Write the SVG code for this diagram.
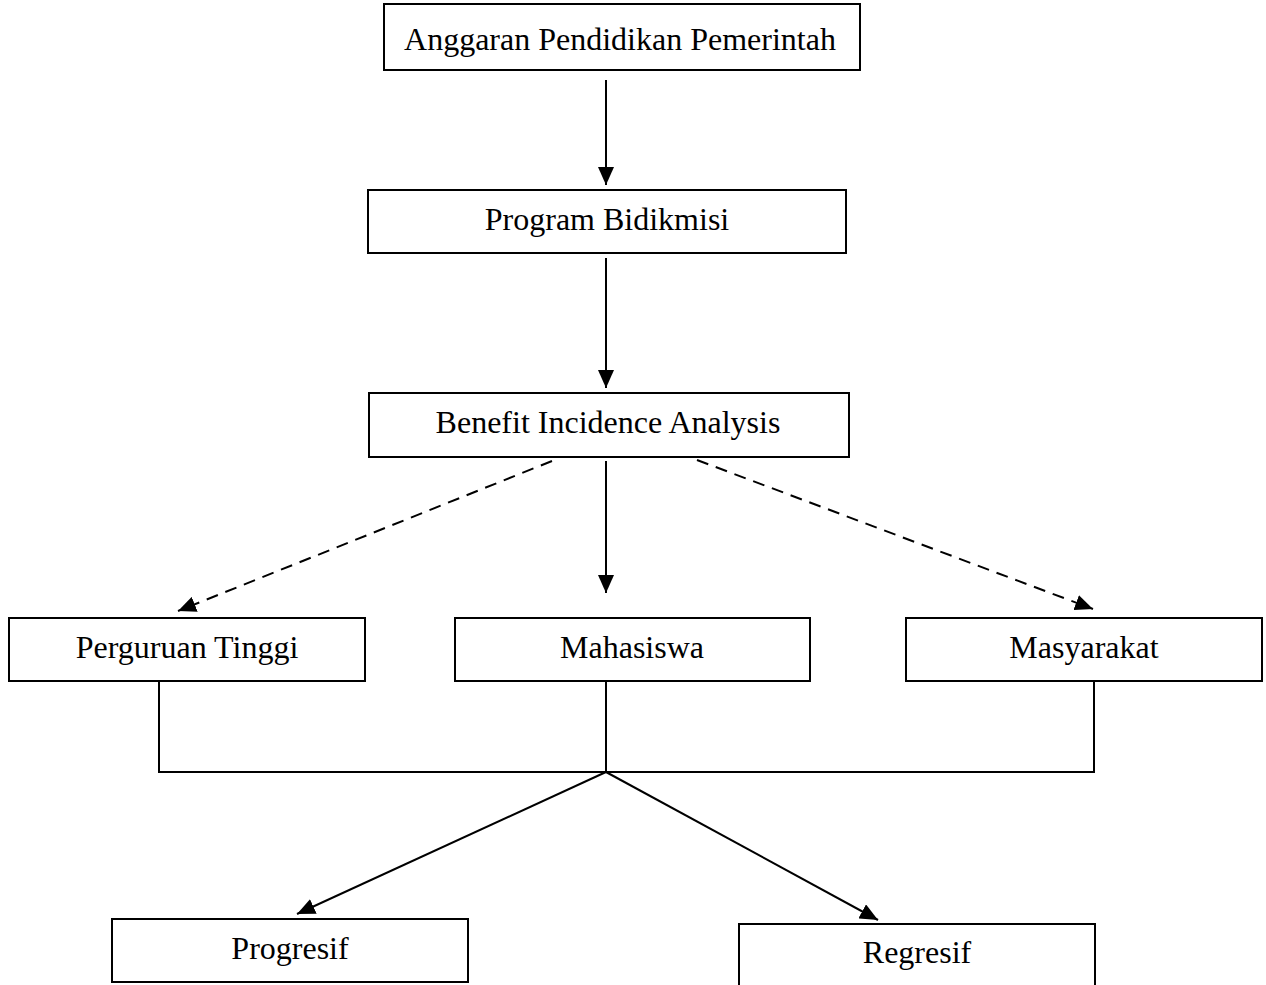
<svg xmlns="http://www.w3.org/2000/svg" width="1266" height="985" viewBox="0 0 1266 985">
<style>
.box{fill:#fff;stroke:#000;stroke-width:2}
.lbl{font-family:"Liberation Serif","Times New Roman",serif;font-size:32px;fill:#000;text-anchor:middle}
.ln{fill:none;stroke:#000;stroke-width:2}
.arr{fill:none;stroke:#000;stroke-width:2;marker-end:url(#ah)}
.dash{stroke-dasharray:12,8}
</style>
<defs>
<marker id="ah" markerUnits="userSpaceOnUse" markerWidth="18" markerHeight="16" viewBox="0 0 18 16" refX="18" refY="8" orient="auto">
<path d="M0,0 L18,8 L0,16 Z" fill="#000"/>
</marker>
</defs>
<rect width="1266" height="985" fill="#fff"/>
<g id="connectors">
<line class="arr" x1="606" y1="80" x2="606" y2="185"/>
<line class="arr" x1="606" y1="258" x2="606" y2="388"/>
<line class="arr" x1="606" y1="461" x2="606" y2="593"/>
<line class="arr dash" x1="552" y1="461" x2="178" y2="611"/>
<line class="arr dash" x1="697" y1="460" x2="1093" y2="609"/>
<polyline class="ln" points="159,681 159,772 1094,772 1094,681"/>
<line class="ln" x1="606" y1="681" x2="606" y2="772"/>
<line class="arr" x1="606" y1="772" x2="297" y2="914"/>
<line class="arr" x1="606" y1="772" x2="878" y2="920"/>
</g>
<g id="n1"><rect class="box" x="384" y="4" width="476" height="66"/><text class="lbl" x="620" y="50">Anggaran Pendidikan Pemerintah</text></g>
<g id="n2"><rect class="box" x="368" y="190" width="478" height="63"/><text class="lbl" x="607" y="230">Program Bidikmisi</text></g>
<g id="n3"><rect class="box" x="369" y="393" width="480" height="64"/><text class="lbl" x="608" y="433">Benefit Incidence Analysis</text></g>
<g id="n4"><rect class="box" x="9" y="618" width="356" height="63"/><text class="lbl" x="187" y="658">Perguruan Tinggi</text></g>
<g id="n5"><rect class="box" x="455" y="618" width="355" height="63"/><text class="lbl" x="632" y="658">Mahasiswa</text></g>
<g id="n6"><rect class="box" x="906" y="618" width="356" height="63"/><text class="lbl" x="1084" y="658">Masyarakat</text></g>
<g id="n7"><rect class="box" x="112" y="919" width="356" height="63"/><text class="lbl" x="290" y="959">Progresif</text></g>
<g id="n8"><rect class="box" x="739" y="924" width="356" height="70"/><text class="lbl" x="917" y="963">Regresif</text></g>
</svg>
